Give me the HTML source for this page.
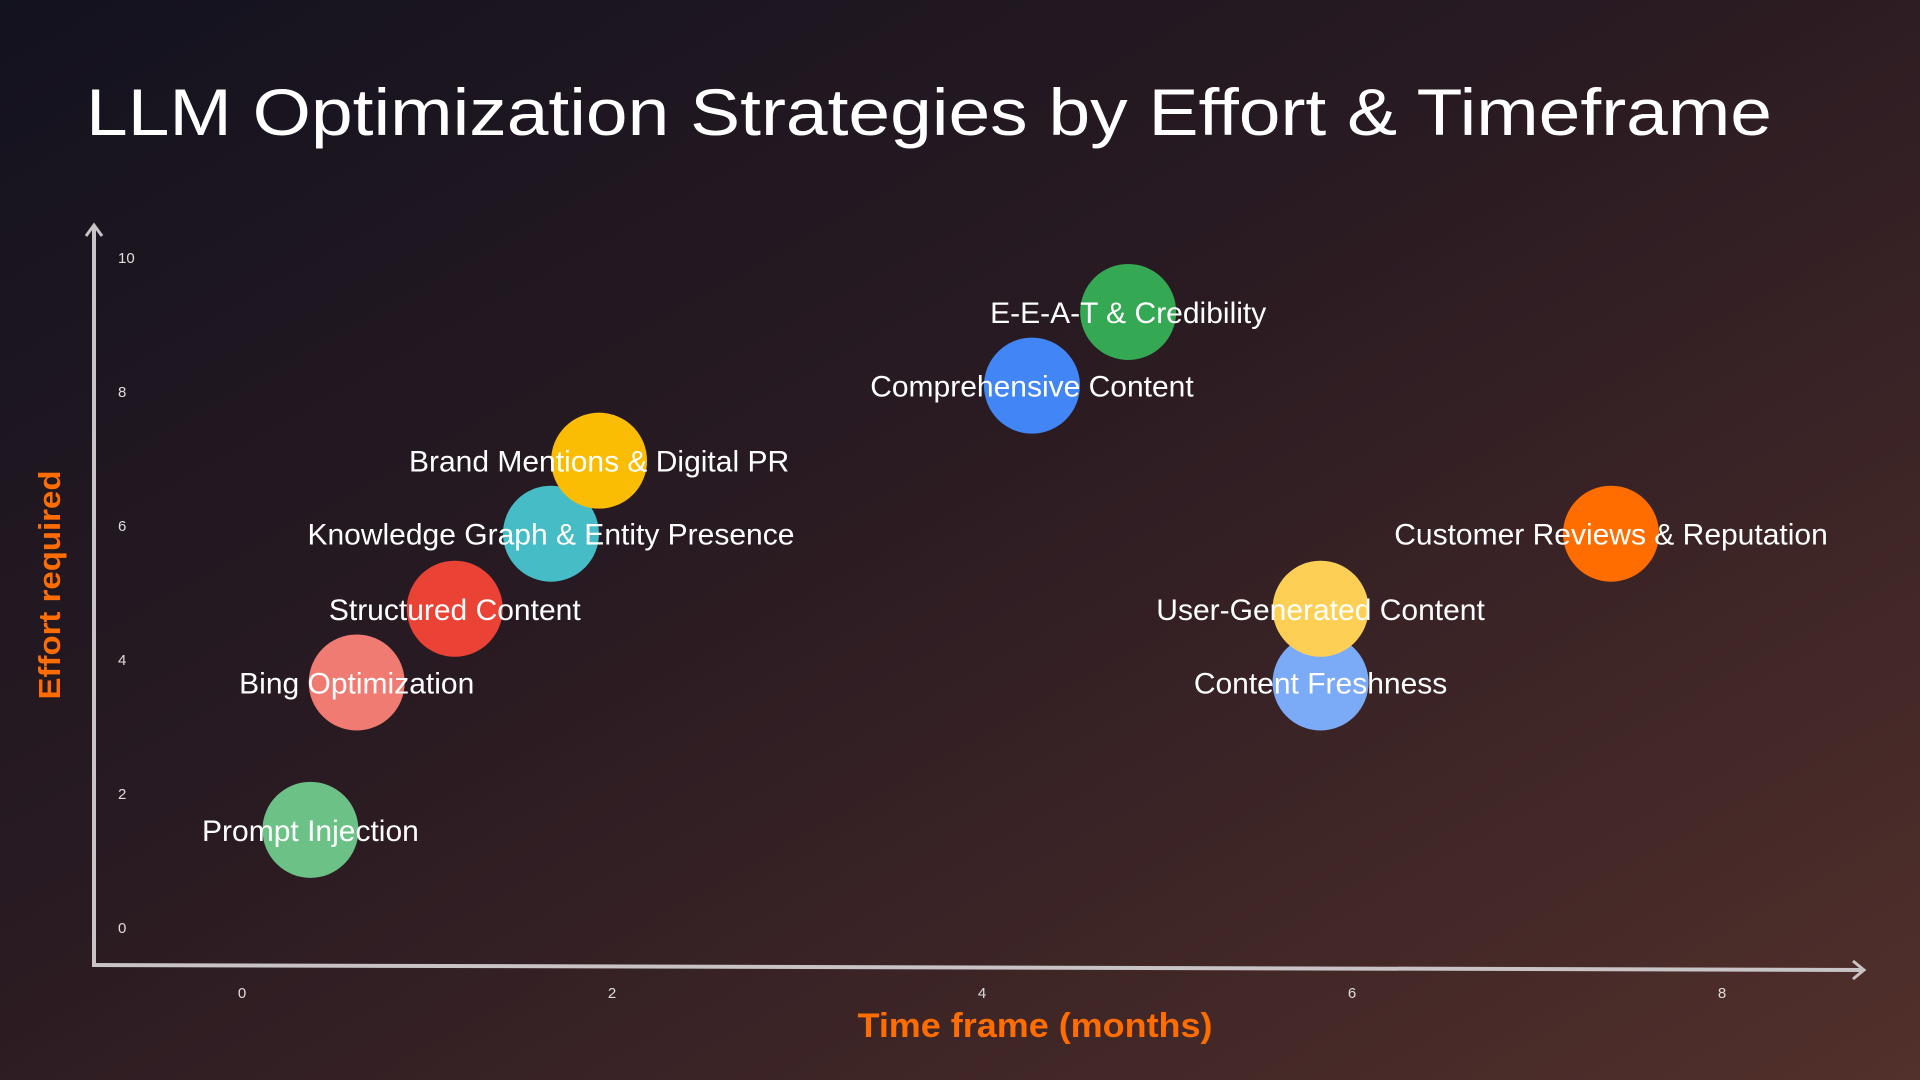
<!DOCTYPE html>
<html><head><meta charset="utf-8"><style>
html,body{margin:0;padding:0;width:1920px;height:1080px;overflow:hidden;background:#1c1620}
svg{display:block}
text{font-family:"Liberation Sans",sans-serif}
</style></head><body>
<svg id="chart" width="1920" height="1080" viewBox="0 0 1920 1080">
<defs>
<linearGradient id="bg" x1="0" y1="0" x2="1" y2="1">
<stop offset="0" stop-color="#13121f"/>
<stop offset="0.45" stop-color="#2a1b22"/>
<stop offset="1" stop-color="#52302b"/>
</linearGradient>
</defs>
<rect width="1920" height="1080" fill="url(#bg)"/>
<text x="86" y="135" font-size="66" fill="#ffffff" textLength="1686" lengthAdjust="spacingAndGlyphs">LLM Optimization Strategies by Effort &amp; Timeframe</text>
<g id="axes"></g>
<g id="marks"></g>
<text transform="translate(60,585) rotate(-90)" text-anchor="middle" font-size="31" font-weight="bold" fill="#ff6d01" textLength="229" lengthAdjust="spacingAndGlyphs">Effort required</text>
<text x="1035" y="1037" text-anchor="middle" font-size="34" font-weight="bold" fill="#ff6d01" textLength="355" lengthAdjust="spacingAndGlyphs">Time frame (months)</text>
</svg>
<script>
const names = ["Prompt Injection","Bing Optimization","Structured Content","Knowledge Graph & Entity Presence","Brand Mentions & Digital PR","Comprehensive Content","E-E-A-T & Credibility","Content Freshness","User-Generated Content","Customer Reviews & Reputation"];
const timeframe = [0.37,0.62,1.15,1.67,1.93,4.27,4.79,5.83,5.83,7.40];
const effort = [1.45,3.65,4.75,5.87,6.96,8.08,9.18,3.65,4.75,5.87];
const colors = ["#6cc286","#f07b72","#ea4335","#46bdc6","#fbbc04","#4285f4","#34a853","#7baaf7","#fdd055","#ff6d01"];
const xTicks = [0,2,4,6,8];
const yTicks = [0,2,4,6,8,10];

const NS="http://www.w3.org/2000/svg";
function xs(v){return 242+v*185;}
function ys(v){return 927-v*67;}
function mk(tag,attrs,parent,txt){const e=document.createElementNS(NS,tag);for(const k in attrs)e.setAttribute(k,attrs[k]);if(txt!==undefined)e.textContent=txt;parent.appendChild(e);return e;}
const axes=document.getElementById('axes');
let e;
e=mk('line',{x1:94,y1:966,x2:94,y2:226,stroke:'#c8c3c5','stroke-width':4},axes);


e=mk('polyline',{points:'86,236 94,225 102,236',fill:'none',stroke:'#c8c3c5','stroke-width':3},axes);


e=mk('line',{x1:92,y1:965,x2:1862,y2:970,stroke:'#c8c3c5','stroke-width':4},axes);


e=mk('polyline',{points:'1853,961 1864,970 1853,979',fill:'none',stroke:'#c8c3c5','stroke-width':3},axes);


xTicks.forEach(t=>{
  const el=mk('text',{x:xs(t),y:998,'text-anchor':'middle','font-size':15,fill:'#e0dcdc'},axes,String(t));
  
  
});
yTicks.forEach(t=>{
  const el=mk('text',{x:118,y:ys(t)+6,'font-size':15,fill:'#e0dcdc'},axes,String(t));
  
  
});
const marks=document.getElementById('marks');
names.forEach((n,i)=>{
  const c=mk('circle',{cx:xs(timeframe[i]),cy:ys(effort[i]),r:48,fill:colors[i]},marks);
  
  
});
names.forEach((n,i)=>{
  const t=mk('text',{x:xs(timeframe[i]),y:ys(effort[i])+11,'text-anchor':'middle','font-size':30,fill:'#ffffff'},marks,n);
  
  
});
</script>
</body></html>
